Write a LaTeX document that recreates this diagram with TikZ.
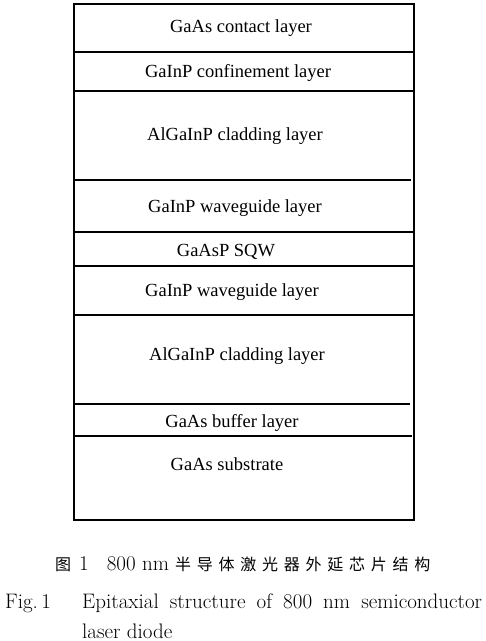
\documentclass[tikz,border=0pt]{standalone}
\usepackage{fontspec}
\newfontfamily\layerfont{Liberation Serif}
\newfontfamily\cjk{Noto Sans CJK SC}
\newfontfamily\cjkwide[LetterSpace=36]{Noto Sans CJK SC}
\begin{document}
\begin{tikzpicture}[
  x=1pt, y=-1pt,
  layertext/.style={anchor=base, inner sep=0pt, font=\layerfont\fontsize{18.5}{22}\selectfont},
  captext/.style={anchor=base west, inner sep=0pt, font=\fontsize{21}{25}\selectfont},
  outerline/.style={line width=1.7pt},
  innerline/.style={line width=1.3pt}
]
\useasboundingbox (0,0) rectangle (486,641);

% Stack outline
\draw[outerline] (74,4) rectangle (414,520);

% Layer boundaries
\foreach \yy/\xr in {52/414, 91/414, 180/411, 232/414, 266/414, 315/414, 404/410, 436/412}
  \draw[innerline] (74,\yy) -- (\xr,\yy);

% Layers
\node[layertext] (contact) at (241,32)  {GaAs contact layer};
\node[layertext] (confine) at (238,77)  {GaInP confinement layer};
\node[layertext] (cladtop) at (235,140) {AlGaInP cladding layer};
\node[layertext] (wgtop)   at (235,212) {GaInP waveguide layer};
\node[layertext] (sqw)     at (226,256) {GaAsP SQW};
\node[layertext] (wgbot)   at (232,296) {GaInP waveguide layer};
\node[layertext] (cladbot) at (237,360) {AlGaInP cladding layer};
\node[layertext] (buffer)  at (232,427) {GaAs buffer layer};
\node[layertext] (subst)   at (227,470) {GaAs substrate};

% Caption
\node[captext] (capcn) at (55,570)
  {{\cjk\fontsize{16}{20}\selectfont 图}\hspace{8pt}1\hspace{18pt}800 nm\hspace{6pt}{\cjkwide\fontsize{16}{20}\selectfont 半导体激光器外延芯片结构}};
\node[captext] (capfig) at (5,608) {Fig.\,1};
\node[captext] (capen)  at (82,608) {\makebox[400pt][s]{Epitaxial structure of 800 nm semiconductor}};
\node[captext] (capen2) at (82,638) {laser diode};
\end{tikzpicture}
\end{document}
